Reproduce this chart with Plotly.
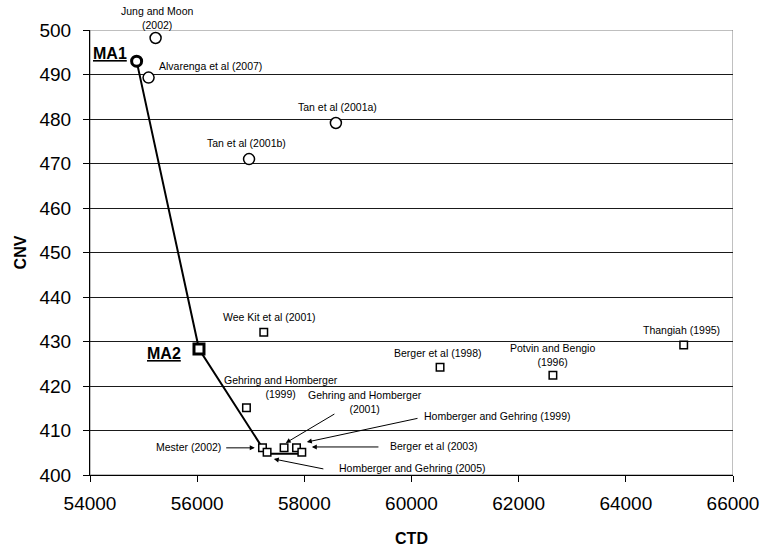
import plotly.graph_objects as go

# Literature results (circles: first group, squares: second group)
circ_names = ["Jung and Moon (2002)", "Alvarenga et al (2007)", "Tan et al (2001a)", "Tan et al (2001b)"]
circ_ctd = [55224, 55093, 58589, 56968]
circ_cnv = [498.2, 489.3, 479.1, 471.0]

sq_names = ["Wee Kit et al (2001)", "Gehring and Homberger (1999)", "Mester (2002)",
            "Homberger and Gehring (2005)", "Gehring and Homberger (2001)",
            "Homberger and Gehring (1999)", "Berger et al (2003)",
            "Berger et al (1998)", "Potvin and Bengio (1996)", "Thangiah (1995)"]
sq_ctd = [57243, 56920, 57219, 57305, 57622, 57854, 57953, 60533, 62639, 65080]
sq_cnv = [432.1, 415.1, 406.1, 405.1, 406.1, 406.1, 405.1, 424.2, 422.4, 429.2]

# MA front line
front_ctd = [54870, 56034, 57219, 57305, 57953]
front_cnv = [493.0, 428.3, 406.1, 404.8, 404.8]

ma1_ctd, ma1_cnv = [54870], [493.0]
ma2_ctd, ma2_cnv = [56034], [428.3]

x_ticks = [54000, 56000, 58000, 60000, 62000, 64000, 66000]
x_ticktext = [str(v) for v in x_ticks]

FONT = "Arial, Liberation Sans, sans-serif"

fig = go.Figure()
fig.add_trace(go.Scatter(x=front_ctd, y=front_cnv, mode="lines",
                         line=dict(color="black", width=2), showlegend=False, hoverinfo="skip"))
fig.add_trace(go.Scatter(x=circ_ctd, y=circ_cnv, mode="markers", text=circ_names,
                         marker=dict(symbol="circle", size=11, color="white",
                                     line=dict(color="black", width=1.5)), showlegend=False))
fig.add_trace(go.Scatter(x=sq_ctd, y=sq_cnv, mode="markers", text=sq_names,
                         marker=dict(symbol="square", size=7.5, color="white",
                                     line=dict(color="black", width=1.5)), showlegend=False))
fig.add_trace(go.Scatter(x=ma1_ctd, y=ma1_cnv, mode="markers",
                         marker=dict(symbol="circle", size=10, color="white",
                                     line=dict(color="black", width=3)), showlegend=False))
fig.add_trace(go.Scatter(x=ma2_ctd, y=ma2_cnv, mode="markers",
                         marker=dict(symbol="square", size=10, color="white",
                                     line=dict(color="black", width=3)), showlegend=False))

lab = dict(size=10.5, color="black", family=FONT)
texts = [
    ("Alvarenga et al (2007)", 55243, 491.9, "left"),
    ("Tan et al (2001a)", 58626, 482.7, "center"),
    ("Tan et al (2001b)", 56925, 474.6, "center"),
    ("Wee Kit et al (2001)", 57355, 435.5, "center"),
    ("Gehring and Homberger<br>(1999)", 57560, 419.7, "center"),
    ("Gehring and Homberger<br>(2001)", 59130, 416.5, "center"),
    ("Homberger and Gehring (1999)", 60195, 413.3, "left"),
    ("Berger et al (2003)", 59560, 406.5, "left"),
    ("Homberger and Gehring (2005)", 58607, 401.6, "left"),
    ("Mester (2002)", 56476, 406.3, "right"),
    ("Berger et al (1998)", 60496, 427.4, "center"),
    ("Potvin and Bengio<br>(1996)", 62626, 426.9, "center"),
    ("Thangiah (1995)", 65037, 432.6, "center"),
]
for t, x, y, xa in texts:
    fig.add_annotation(x=x, y=y, text=t, showarrow=False, xanchor=xa, yanchor="middle",
                       font=lab, align="center")

# label above the plot area (outside y range) -> paper y
fig.add_annotation(x=55262, xref="x", y=1.0, yref="paper", yshift=-3, text="Jung and Moon<br>(2002)",
                   showarrow=False, xanchor="center", yanchor="bottom", font=lab, align="center")

fig.add_annotation(x=54364, y=494.8, text="<b><u>MA1</u></b>", showarrow=False,
                   font=dict(size=16, color="black", family=FONT))
fig.add_annotation(x=55375, y=427.4, text="<b><u>MA2</u></b>", showarrow=False,
                   font=dict(size=16, color="black", family=FONT))

arrows = [
    (57075, 406.1, 56514, 406.1),
    (57653, 407.2, 58589, 413.9),
    (58047, 407.4, 60140, 412.8),
    (58140, 406.3, 59411, 406.3),
    (57430, 403.6, 58383, 401.3),
]
for hx, hy, tx, ty in arrows:
    fig.add_annotation(x=hx, y=hy, ax=tx, ay=ty, axref="x", ayref="y", text="",
                       showarrow=True, arrowhead=2, arrowsize=1, arrowwidth=1,
                       arrowcolor="black", standoff=0)

fig.add_shape(type="rect", xref="x", yref="y", x0=54000, x1=66000, y0=400, y1=500,
              line=dict(color="#808080", width=1), layer="below")

fig.update_xaxes(range=[54000, 66000], tickvals=x_ticks, ticktext=x_ticktext, automargin=False,
                 ticks="outside", ticklen=6, tickcolor="black", showline=True, linecolor="black",
                 linewidth=1, showgrid=False, zeroline=False, ticklabelstandoff=5,
                 tickfont=dict(size=19, color="black", family=FONT),
                 title=dict(text="<b>CTD</b>", font=dict(size=16, color="black", family=FONT), standoff=20))
fig.update_yaxes(range=[400, 500], dtick=10, ticks="outside", ticklen=6, tickcolor="black",
                 automargin=False,
                 showline=True, linecolor="black", linewidth=1, showgrid=True, gridcolor="#1a1a1a",
                 gridwidth=1, zeroline=False, ticklabelstandoff=8,
                 tickfont=dict(size=19, color="black", family=FONT),
                 title=dict(text="<b>CNV</b>", font=dict(size=16, color="black", family=FONT), standoff=8))

fig.update_layout(width=763, height=550, margin=dict(l=90, r=30, t=30, b=75),
                  plot_bgcolor="white", paper_bgcolor="white", showlegend=False)

fig.write_html("out.html", config={"displayModeBar": False},
               post_script="document.body.style.margin='0px';")
